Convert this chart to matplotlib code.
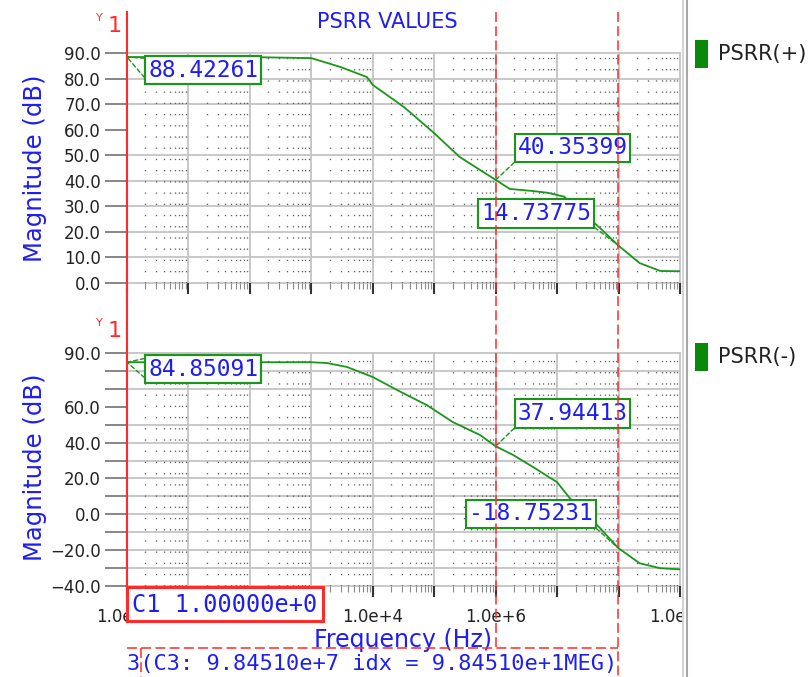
import matplotlib
matplotlib.use("Agg")
import matplotlib.pyplot as plt
from matplotlib.lines import Line2D
from matplotlib.patches import Rectangle
from matplotlib.transforms import blended_transform_factory

# ---------------- data ----------------
freq_pos = [1, 10, 100, 1e3, 3e3, 8e3, 1e4, 3.2e4, 9.5e4, 2.6e5, 5.6e5, 1e6,
            1.7e6, 4e6, 7e6, 1.3e7, 5e7, 9.8451e7, 2.2e8, 4.8e8, 1e9]
psrr_pos = [88.42261, 88.42, 88.4, 88.0, 84.5, 80.6, 77.5, 68.9, 59.1, 49.3, 44.2,
            40.35399, 36.8, 36.0, 35.3, 33.8, 21.5, 14.73775, 7.8, 4.7, 4.6]

freq_neg = [1, 10, 100, 1e3, 1.8e3, 3.8e3, 1e4, 2.5e4, 7.6e4, 2e5, 5.6e5, 1e6,
            1.95e6, 4.1e6, 1e7, 1.6e7, 5e7, 9.8451e7, 2.2e8, 4.8e8, 1e9]
psrr_neg = [84.85091, 84.85, 84.85, 84.85, 84.4, 82.2, 76.6, 69.3, 60.9, 51.5, 44.2,
            37.94413, 33.0, 26.3, 17.9, 9.1, -7.7, -18.75231, -27.3, -30.1, -30.7]

cursor_c1 = 1.0
cursor_c2 = 1.0e6
cursor_c3 = 9.8451e7

marks_pos = [(cursor_c1, 88.42261), (cursor_c2, 40.35399), (cursor_c3, 14.73775)]
marks_neg = [(cursor_c1, 84.85091), (cursor_c2, 37.94413), (cursor_c3, -18.75231)]

decades = [10.0 ** k for k in range(10)]
minor_x = [m * 10.0 ** k for k in range(9) for m in range(2, 10)]
xtick_labels = ['1.0e+0', '', '1.0e+2', '', '1.0e+4', '', '1.0e+6', '', '', '1.0e+9']

top_yticks = [90, 80, 70, 60, 50, 40, 30, 20, 10, 0]
top_ylabels = ['90.0', '80.0', '70.0', '60.0', '50.0', '40.0', '30.0', '20.0', '10.0', '0.0']
bot_yticks = [90, 80, 70, 60, 50, 40, 30, 20, 10, 0, -10, -20, -30, -40]
bot_ylabels = ['90.0', '', '', '60.0', '', '40.0', '', '20.0', '', '0.0', '',
               '\u221220.0', '', '\u221240.0']

series_names = ['PSRR(+)', 'PSRR(-)']

# ---------------- style ----------------
W, H = 810, 677
BLUE = '#1e1ef0'
GREEN = '#1a961a'
DKGREEN = '#0a880a'
RED = '#ff2a2a'
GRID = '#c4c4c4'
MONO = 'DejaVu Sans Mono'


def fx(px):
    return px / W


def fy(py):
    return 1 - py / H


def sci(v):
    m, e = f"{v:.5e}".split('e')
    return f"{m}e{int(e):+d}"


fig = plt.figure(figsize=(W / 100, H / 100), dpi=100)
fig.patch.set_facecolor('white')

ax1 = fig.add_axes([fx(127), fy(283), 553 / W, 230 / H])
ax2 = fig.add_axes([fx(127), fy(586), 553 / W, 233 / H])


def setup(ax, yticks, ylabels, ylim, xlabels):
    ax.set_xscale('log')
    ax.set_xlim(1, 1e9)
    ax.set_ylim(*ylim)
    for s in ax.spines.values():
        s.set_visible(False)
    ax.set_xticks(decades, labels=xlabels)
    ax.set_xticks(minor_x, minor=True)
    ax.set_xticklabels([''] * len(minor_x), minor=True)
    ax.set_yticks(yticks, labels=ylabels)
    ax.tick_params(axis='x', which='major', direction='out', length=8, width=1.5,
                   color='#333333', labelsize=12, labelcolor='#222222', pad=8)
    ax.tick_params(axis='x', which='minor', direction='out', length=4.5, width=0.8,
                   color='#8a8a8a')
    ax.tick_params(axis='y', which='major', direction='out', length=15.8, width=1.1,
                   color='#666666', labelsize=12, labelcolor='#222222', pad=3)
    # solid major grid
    for d in decades:
        ax.axvline(d, color=GRID, lw=1.3, zorder=0.5, clip_on=False)
    for y in yticks:
        if y != 60:
            ax.axhline(y, color=GRID, lw=1.3, zorder=0.5, clip_on=False)
    # dotted minor columns
    for m in minor_x:
        ax.axvline(m, color='#606060', lw=0.95, ls=(0, (1, 7.5)), zorder=0.6)


setup(ax1, top_yticks, top_ylabels, (0, 90), [''] * len(decades))
setup(ax2, bot_yticks, bot_ylabels, (-40, 90), xtick_labels)

ax1.plot(freq_pos, psrr_pos, color=GREEN, lw=1.3, zorder=2)
ax2.plot(freq_neg, psrr_neg, color=GREEN, lw=1.3, zorder=2)


def marker_label(ax, f, v, dx, dy, corners):
    txt = f"{v:.5f}"
    for i, rp in enumerate(corners):
        ax.annotate(txt, xy=(f, v), xytext=(dx, dy), textcoords='offset pixels',
                    ha='left', va='center', family=MONO, fontsize=16.5,
                    color=BLUE if i == 0 else 'none',
                    bbox=dict(boxstyle='square,pad=0.12',
                              fc='white' if i == 0 else 'none', ec=GREEN, lw=1.5),
                    arrowprops=dict(arrowstyle='-', color=GREEN, lw=1.0,
                                    ls=(0, (3, 2)), shrinkA=0, shrinkB=0, relpos=rp),
                    annotation_clip=False, zorder=3)


marker_label(ax1, *marks_pos[0], 21, -13, [(0, 0), (0, 1)])
marker_label(ax1, *marks_pos[1], 22, 32, [(0, 0)])
marker_label(ax1, *marks_pos[2], -137, 32, [(1, 0)])
marker_label(ax2, *marks_neg[0], 21, -7, [(0, 0), (0, 1)])
marker_label(ax2, *marks_neg[1], 22, 33, [(0, 0)])
marker_label(ax2, *marks_neg[2], -149, 34, [(1, 0)])

# ---------------- cursors ----------------
bt = blended_transform_factory(ax1.transData, fig.transFigure)
fig.add_artist(Line2D([cursor_c1, cursor_c1], [fy(12), fy(588)], transform=bt,
                      color=RED, lw=1.5, zorder=5))
dash = (0, (6.5, 2.8))
fig.add_artist(Line2D([cursor_c2, cursor_c2], [fy(12), fy(648)], transform=bt,
                      color=RED, lw=1.1, ls=dash, zorder=5))
fig.add_artist(Line2D([cursor_c3, cursor_c3], [fy(12), fy(677)], transform=bt,
                      color=RED, lw=1.1, ls=dash, zorder=5))
fig.add_artist(Line2D([cursor_c1, cursor_c3], [fy(648), fy(648)], transform=bt,
                      color=RED, lw=1.1, ls=dash, zorder=5))
fig.add_artist(Line2D([fx(141), fx(141)], [fy(648), fy(677)], color=RED, lw=1.1,
                      ls=dash, zorder=5))

# cursor readout box
fig.add_artist(Rectangle((fx(127), fy(621)), 196 / W, 34 / H, transform=fig.transFigure,
                         fc='white', ec=RED, lw=2.2, zorder=6))
fig.text(fx(132), fy(605), f"C1 {sci(cursor_c1)}", family=MONO, fontsize=17,
         color=BLUE, ha='left', va='center', zorder=7)
fig.text(fx(127), fy(664), f"3(C3: {sci(cursor_c3)} idx = {sci(cursor_c3)[:-2]}+1MEG)",
         family=MONO, fontsize=15.8, color=BLUE, ha='left', va='center', zorder=7)

# ---------------- labels ----------------
fig.text(fx(387), fy(22), 'PSRR VALUES', ha='center', va='center', color=BLUE,
         fontsize=15)
fig.text(fx(35), fy(168), 'Magnitude (dB)', rotation=90, ha='center', va='center',
         color=BLUE, fontsize=17.5)
fig.text(fx(35), fy(467), 'Magnitude (dB)', rotation=90, ha='center', va='center',
         color=BLUE, fontsize=17.5)
fig.text(fx(403), fy(640), 'Frequency (Hz)', ha='center', va='center', color=BLUE,
         fontsize=17, zorder=4)
for ytop in (22, 327):
    fig.text(fx(99), fy(ytop - 4), 'Y', ha='center', va='center', color=RED, fontsize=8)
    fig.text(fx(115), fy(ytop + 4), '1', ha='center', va='center', color=RED,
             fontsize=16)

# ---------------- right panel / legend ----------------
fig.add_artist(Rectangle((fx(682), 0), 1 - fx(682), 1, transform=fig.transFigure,
                         fc='white', ec='none', zorder=10))
fig.add_artist(Line2D([fx(683), fx(683)], [0, 1], color='#d4d4d4', lw=1.5, zorder=11))
fig.add_artist(Line2D([fx(687), fx(687)], [0, 1], color='#a8a8a8', lw=1.5, zorder=11))
for name, yc in zip(series_names, (54, 357)):
    fig.add_artist(Rectangle((fx(695), fy(yc + 14)), 13 / W, 28 / H,
                             transform=fig.transFigure, fc=DKGREEN, ec='none', zorder=12))
    fig.text(fx(718), fy(yc), name, ha='left', va='center', color='#222222',
             fontsize=15, zorder=12)

fig.savefig('out.png', dpi=100, facecolor='white')
